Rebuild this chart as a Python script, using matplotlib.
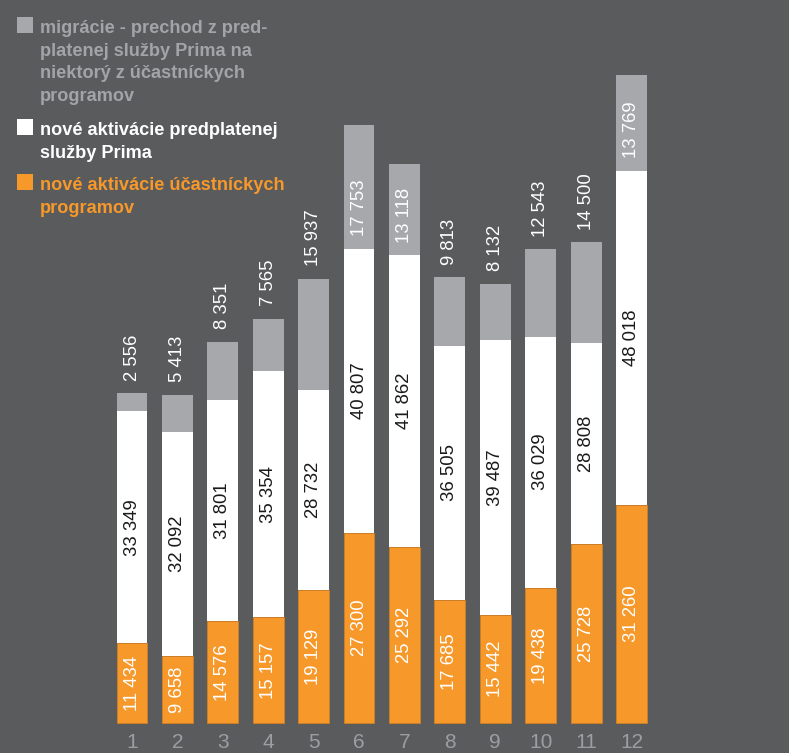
import matplotlib
matplotlib.use("Agg")
import matplotlib.pyplot as plt
from matplotlib.patches import Rectangle

# monthly activations (1-12)
months = ["1", "2", "3", "4", "5", "6", "7", "8", "9", "10", "11", "12"]
ucastnicke = [11434, 9658, 14576, 15157, 19129, 27300, 25292, 17685, 15442, 19438, 25728, 31260]
predplatene = [33349, 32092, 31801, 35354, 28732, 40807, 41862, 36505, 39487, 36029, 28808, 48018]
migracie = [2556, 5413, 8351, 7565, 15937, 17753, 13118, 9813, 8132, 12543, 14500, 13769]
# which migration labels sit inside their segment
migr_inside = [False, False, False, False, False, True, True, False, False, False, False, True]

legend_labels = [
    "migrácie - prechod z pred-\nplatenej služby Prima na\nniektorý z účastníckych\nprogramov",
    "nové aktivácie predplatenej\nslužby Prima",
    "nové aktivácie účastníckych\nprogramov",
]

BG = "#5a5b5d"
ORANGE = "#f7982a"
GREY = "#a7a8ac"
WHITE = "#ffffff"
TICK = "#9d9ea1"

plt.rcParams["font.family"] = ["Liberation Sans", "DejaVu Sans"]

fig = plt.figure(figsize=(7.89, 7.53), dpi=100, facecolor=BG)
ax = fig.add_axes([0, 0, 1, 1])
ax.set_facecolor(BG)
ax.set_xlim(-2.907, 14.468)
ax.set_ylim(-4308, 103820)
ax.axis("off")

x = list(range(len(months)))
w = 0.68
mid = [a + b for a, b in zip(ucastnicke, predplatene)]
top = [m + g for m, g in zip(mid, migracie)]

ax.bar(x, ucastnicke, width=w, color=ORANGE, edgecolor="#d07f22", linewidth=0.6)
ax.bar(x, predplatene, width=w, bottom=ucastnicke, color=WHITE, linewidth=0)
ax.bar(x, migracie, width=w, bottom=mid, color=GREY, linewidth=0)


def fmt(v):
    return f"{v:,}".replace(",", " ")


lbl = dict(rotation=90, ha="center", fontsize=13.3)
for i in x:
    ax.text(i, ucastnicke[i] / 2, fmt(ucastnicke[i]), va="center", color="white", **lbl)
    ax.text(i, ucastnicke[i] + predplatene[i] / 2, fmt(predplatene[i]),
            va="center", color="#1a1a1a", **lbl)
    base = mid[i] if migr_inside[i] else top[i]
    ax.annotate(fmt(migracie[i]), (i, base), xytext=(0, 9), textcoords="offset points",
                va="bottom", color="white", **lbl)
    ax.text(i, -2870, months[i], ha="center", va="center", fontsize=15, color=TICK)

# legend drawn by hand in figure pixels, one text line per row
W, H = 789, 753
LINE = 22.7
legend_rows = [(17, GREY, legend_labels[0], "#a3a4a8"),
               (119, WHITE, legend_labels[1], "#ffffff"),
               (174, ORANGE, legend_labels[2], ORANGE)]
for ytop, fc, text, tc in legend_rows:
    fig.patches.append(Rectangle((17 / W, 1 - (ytop + 16) / H), 16 / W, 16 / H,
                                 transform=fig.transFigure, facecolor=fc, edgecolor="none"))
    for k, line in enumerate(text.split("\n")):
        fig.text(40 / W, 1 - (ytop + 16 + k * LINE) / H, line, ha="left", va="baseline",
                 fontsize=13.1, fontweight="bold", color=tc)

fig.savefig("out.png", dpi=100, facecolor=BG)
